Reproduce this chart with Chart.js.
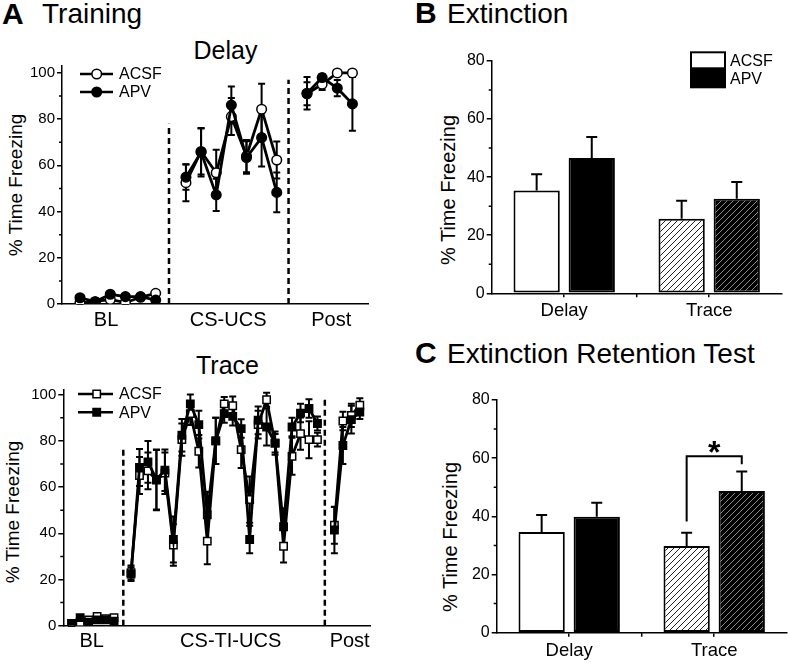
<!DOCTYPE html>
<html>
<head>
<meta charset="utf-8">
<script src="https://cdn.jsdelivr.net/npm/chart.js@4.4.0/dist/chart.umd.min.js"></script>
<style>
  body { margin: 0; background: #fff; width: 789px; height: 663px; position: relative; overflow: hidden;
         font-family: "Liberation Sans", Arial, Helvetica, sans-serif; }
  .box { position: absolute; }
  .txt { position: absolute; white-space: nowrap; line-height: 1; color: #000; }
  .ytitle { position: absolute; white-space: nowrap; line-height: 1; font-size: 19px;
            transform: translate(-50%, -50%) rotate(-90deg); }
</style>
</head>
<body>
<div class="txt" style="left:2px;top:-1px;font-size:30px;font-weight:bold">A</div>
<div class="txt" style="left:42px;top:0px;font-size:28px">Training</div>
<div class="txt" style="left:415px;top:-2px;font-size:30px;font-weight:bold">B</div>
<div class="txt" style="left:447px;top:-0.5px;font-size:28px">Extinction</div>
<div class="txt" style="left:415px;top:338px;font-size:30px;font-weight:bold">C</div>
<div class="txt" style="left:447px;top:339.5px;font-size:28px">Extinction Retention Test</div>

<div class="txt" style="left:225.5px;top:38px;font-size:25px;transform:translateX(-50%)">Delay</div>
<div class="txt" style="left:227.5px;top:353px;font-size:25px;transform:translateX(-50%)">Trace</div>

<div class="ytitle" style="left:15px;top:185px">% Time Freezing</div>
<div class="ytitle" style="left:12px;top:512px">% Time Freezing</div>
<div class="ytitle" style="left:448px;top:190px;font-size:20px">% Time Freezing</div>
<div class="ytitle" style="left:450px;top:537px;font-size:20px">% Time Freezing</div>

<div class="box" style="left:0;top:0;width:390px;height:335px"><canvas id="delayChart"></canvas></div>
<div class="box" style="left:0;top:335px;width:390px;height:328px"><canvas id="traceChart"></canvas></div>
<div class="box" style="left:400px;top:0;width:389px;height:330px"><canvas id="extChart"></canvas></div>
<div class="box" style="left:400px;top:330px;width:389px;height:333px"><canvas id="retChart"></canvas></div>

<script>
// ---- data (A: training, one point per trial, null = gap between phases)
const delayGroups = ['BL', 'CS-UCS', 'Post'];
const delayGroupPos = [1.72, 9.79, 16.6];
const delayACSF    = [0.6, 1, 2, 0.6, 2.9, 4.6, null, 52.5, 66, 56.8, 81.1, 64, 84.3, 62.3, null, 91, 95.1, 100, 100];
const delayACSFErr = [0.5, 0.5, 1, 0.5, 1, 1.5, null, 8, 10, 10, 8, 7, 11, 8, null, 5, 2.5, 1, 1];
const delayAPV     = [2.7, 1, 4.2, 3.2, 3.2, 1.7, null, 54.9, 65.7, 47.2, 86.1, 63.4, 72, 48.3, null, 91.2, 98, 93.4, 86.6];
const delayAPVErr  = [1, 0.5, 1, 1, 1, 1, null, 5.5, 10.5, 7, 8, 7, 12.5, 8.6, null, 7, 1.5, 3.5, 11.6];
const delayDividers = [{x: 5.88, top: 78}, {x: 13.78, top: 97}];

const traceGroups = ['BL', 'CS-TI-UCS', 'Post'];
const traceGroupPos = [2.36, 18.76, 32.8];
const traceACSF = [1, 1.5, 2.5, 4, 3, 3.5, null,
  23, 65, 67, 63, 66, 34.9, 80.5, 91.8, 75.5, 36.6, 80, 96, 95.2, 76.2, 54.6, 87, 97.8, 79, 34.4, 73.3, 83.1, 80.5, 80.5,
  null, 43.5, 88.6, 91, 95.4];
const traceACSFErr = [1, 1, 1, 1, 1, 1, null,
  3, 8, 8, 13, 9, 9, 7, 5, 7, 10, 10, 3, 4, 8, 10, 6, 3, 5, 7, 8, 7, 8, 3,
  null, 8, 4, 5, 3];
const traceAPV = [1, 3.5, 1.5, 2.5, 2.5, 2, null,
  22.3, 68.5, 70.9, 63.3, 67.3, 37.3, 82.4, 96, 87, 48, 80, 91.8, 90.6, 85.3, 37.3, 88.9, 86, 79, 42.8, 86, 92, 94, 87.5,
  null, 41.4, 78, 89.2, 92.5];
const traceAPVErr = [1, 1, 1, 1, 1, 1, null,
  3, 8, 9, 13, 9, 10, 7, 4, 6, 10, 10, 4, 4, 4, 6, 6, 8, 4, 8, 4, 4, 4, 3,
  null, 10, 8, 6, 3];
const traceDividers = [{x: 6.09, top: 76.7}, {x: 29.87, top: 98.3}];

// ---- data (B: extinction, C: extinction retention test)
const barCategories = ['Delay', 'Trace'];
const extACSF = [35.4, 25.7];
const extACSFErr = [5.6, 6.2];
const extAPV = [46.6, 32.6];
const extAPVErr = [7.2, 5.7];
const retACSF = [34.6, 29.8];
const retACSFErr = [5.9, 4.6];
const retAPV = [39.9, 48.7];
const retAPVErr = [4.8, 6.7];
const retSig = {index: 1, leftFrom: 38.2, top: 60.7, rightFrom: 57.9, labelAt: 64.6, label: '*'};

Chart.defaults.font.family = '"Liberation Sans", Arial, Helvetica, sans-serif';
Chart.defaults.color = '#000';
Chart.defaults.animation = false;
Chart.defaults.plugins.legend.display = false;
Chart.defaults.plugins.tooltip.enabled = false;

// error bars: 'both' drawn under the markers, 'up' drawn over the bars
function drawErrors(chart, mode) {
  const ctx = chart.ctx, ys = chart.scales.y;
  ctx.save();
  ctx.strokeStyle = '#000';
  ctx.lineWidth = 2;
  chart.data.datasets.forEach((ds, di) => {
    if (!ds.errors || ds.errorMode !== mode) return;
    chart.getDatasetMeta(di).data.forEach((el, i) => {
      const raw = ds.data[i];
      const v = (raw && typeof raw === 'object') ? raw.y : raw;
      const e = ds.errors[i];
      if (v == null || e == null) return;
      const top = ys.getPixelForValue(v + e);
      const bot = ys.getPixelForValue(mode === 'up' ? v : v - e);
      const w = ds.capWidth / 2;
      ctx.beginPath();
      ctx.moveTo(el.x, bot); ctx.lineTo(el.x, top);
      ctx.moveTo(el.x - w, top); ctx.lineTo(el.x + w, top);
      if (mode === 'both') { ctx.moveTo(el.x - w, bot); ctx.lineTo(el.x + w, bot); }
      ctx.stroke();
    });
  });
  ctx.restore();
}
const errorBars = {
  id: 'errorBars',
  beforeDatasetsDraw(chart) { drawErrors(chart, 'both'); },
  afterDatasetsDraw(chart) { drawErrors(chart, 'up'); }
};

// short minor ticks on the y axis (+ middle tick on bar charts)
const minorTicks = {
  id: 'minorTicks',
  afterDraw(chart, args, opts) {
    const ctx = chart.ctx, area = chart.chartArea, ys = chart.scales.y;
    ctx.save();
    ctx.strokeStyle = '#000';
    ctx.lineWidth = 1.5;
    ctx.beginPath();
    (opts.values || []).forEach(v => {
      const py = ys.getPixelForValue(v);
      ctx.moveTo(area.left - 3, py); ctx.lineTo(area.left, py);
    });
    if (opts.xMid) {
      const xs = chart.scales.x;
      const px = (xs.getPixelForTick(0) + xs.getPixelForTick(1)) / 2;
      ctx.moveTo(px, area.bottom); ctx.lineTo(px, area.bottom + 4);
    }
    ctx.stroke();
    ctx.restore();
  }
};

// legend for the training plots (line + marker + label)
const lineKey = {
  id: 'lineKey',
  afterDraw(chart, args, o) {
    if (!o.rows) return;
    const ctx = chart.ctx;
    ctx.save();
    ctx.font = '16px "Liberation Sans", Arial, sans-serif';
    ctx.textBaseline = 'middle';
    ctx.fillStyle = '#000';
    o.rows.forEach(r => {
      ctx.strokeStyle = '#000';
      ctx.lineWidth = 2.5;
      ctx.beginPath(); ctx.moveTo(o.x0, r.y); ctx.lineTo(o.x1, r.y); ctx.stroke();
      ctx.lineWidth = 1.5;
      ctx.fillStyle = r.filled ? '#000' : '#fff';
      ctx.beginPath();
      if (o.marker === 'rect') ctx.rect(o.xm - 3.7, r.y - 3.7, 7.4, 7.4);
      else ctx.arc(o.xm, r.y, 4.8, 0, Math.PI * 2);
      ctx.fill(); ctx.stroke();
      ctx.fillStyle = '#000';
      ctx.fillText(r.label, o.xt, r.y + 1);
    });
    ctx.restore();
  }
};

function lineChart(id, o) {
  const pts = vals => vals.map((v, i) => ({x: i, y: v}));
  const base = {
    type: 'line', borderColor: '#000', borderWidth: 2.8, pointStyle: o.marker, pointRadius: o.radius,
    pointBorderColor: '#000', pointBorderWidth: 1.5, spanGaps: false, tension: 0,
    errorMode: 'both', capWidth: 7
  };
  const datasets = [
    Object.assign({}, base, {label: 'ACSF', data: pts(o.acsf), errors: o.acsfErr, pointBackgroundColor: '#fff', order: 2}),
    Object.assign({}, base, {label: 'APV', data: pts(o.apv), errors: o.apvErr, pointBackgroundColor: '#000', order: 1})
  ];
  o.dividers.forEach(d => datasets.push({
    type: 'line', label: '', data: [{x: d.x, y: 0}, {x: d.x, y: d.top}],
    borderColor: '#000', borderWidth: 2.5, borderDash: [6, 4], pointRadius: 0, order: 3
  }));
  return new Chart(document.getElementById(id), {
    type: 'line',
    data: {datasets},
    options: {
      responsive: true, maintainAspectRatio: false, devicePixelRatio: 1,
      layout: {padding: {top: o.padTop, right: o.padRight, left: 0, bottom: 0}},
      scales: {
        x: {
          type: 'linear', min: o.xMin, max: o.xMax,
          afterBuildTicks: s => { s.ticks = o.groupPos.map(v => ({value: v})); },
          afterFit: s => { s.height = o.xHeight; },
          ticks: {autoSkip: false, maxRotation: 0, font: {size: 20}, color: '#000', padding: 4,
                  callback: (v, i) => o.groups[i]},
          grid: {display: false, drawTicks: false},
          border: {display: true, color: '#000', width: 1.5}
        },
        y: {
          min: 0, max: o.yMax,
          afterBuildTicks: s => { s.ticks = [0, 20, 40, 60, 80, 100].map(v => ({value: v})); },
          afterFit: s => { s.width = o.yWidth; },
          ticks: {font: {size: 15}, color: '#000', padding: 2},
          grid: {drawOnChartArea: false, drawTicks: true, tickLength: 5, color: '#000', lineWidth: 1.5},
          border: {display: true, color: '#000', width: 1.5}
        }
      },
      plugins: {
        minorTicks: {values: [10, 30, 50, 70, 90]},
        lineKey: o.key
      }
    },
    plugins: [errorBars, minorTicks, lineKey]
  });
}

lineChart('delayChart', {
  acsf: delayACSF, acsfErr: delayACSFErr, apv: delayAPV, apvErr: delayAPVErr,
  dividers: delayDividers, groups: delayGroups, groupPos: delayGroupPos,
  marker: 'circle', radius: 4.8, xMin: -1.19, xMax: 19.03, yMax: 103,
  padTop: 66, padRight: 22, xHeight: 31, yWidth: 62,
  key: {x0: 80, x1: 113, xm: 96.7, xt: 119, marker: 'circle',
        rows: [{label: 'ACSF', y: 74, filled: false}, {label: 'APV', y: 92, filled: true}]}
});

lineChart('traceChart', {
  acsf: traceACSF, acsfErr: traceACSFErr, apv: traceAPV, apvErr: traceAPVErr,
  dividers: traceDividers, groups: traceGroups, groupPos: traceGroupPos,
  marker: 'rect', radius: 5.2, xMin: -0.99, xMax: 35.2, yMax: 102,
  padTop: 55, padRight: 20, xHeight: 37.3, yWidth: 63.3,
  key: {x0: 78, x1: 113, xm: 96.7, xt: 119, marker: 'rect',
        rows: [{label: 'ACSF', y: 59, filled: false}, {label: 'APV', y: 77.3, filled: true}]}
});

// diagonal hatch fill for the Trace bars
function hatch(bg, fg) {
  const c = document.createElement('canvas');
  c.width = 6; c.height = 6;
  const g = c.getContext('2d');
  g.fillStyle = bg; g.fillRect(0, 0, 6, 6);
  g.strokeStyle = fg; g.lineWidth = 1;
  g.beginPath();
  g.moveTo(0, 6); g.lineTo(6, 0);
  g.moveTo(-3, 3); g.lineTo(3, -3);
  g.moveTo(3, 9); g.lineTo(9, 3);
  g.stroke();
  return g.createPattern(c, 'repeat');
}
const hatchLight = hatch('#fff', '#222');
const hatchDark = hatch('#000', '#8a8a8a');

// bar legend (white / black boxes)
const boxKey = {
  id: 'boxKey',
  afterDraw(chart, args, o) {
    if (!o.rows) return;
    const ctx = chart.ctx;
    ctx.save();
    ctx.font = '16px "Liberation Sans", Arial, sans-serif';
    ctx.textBaseline = 'middle';
    o.rows.forEach(r => {
      ctx.fillStyle = r.fill;
      ctx.fillRect(o.x, r.y, o.w, r.h);
      ctx.strokeStyle = '#000'; ctx.lineWidth = 2;
      ctx.strokeRect(o.x, r.y, o.w, r.h);
      ctx.fillStyle = '#000';
      ctx.fillText(r.label, o.x + o.w + 5, r.y + r.h / 2 + 1);
    });
    ctx.restore();
  }
};

// significance bracket with star
const sigBracket = {
  id: 'sigBracket',
  afterDatasetsDraw(chart, args, o) {
    if (!o.sig) return;
    const s = o.sig, ctx = chart.ctx, ys = chart.scales.y;
    const a = chart.getDatasetMeta(0).data[s.index].x;
    const b = chart.getDatasetMeta(1).data[s.index].x;
    const top = ys.getPixelForValue(s.top);
    ctx.save();
    ctx.strokeStyle = '#000'; ctx.lineWidth = 2;
    ctx.beginPath();
    ctx.moveTo(a, ys.getPixelForValue(s.leftFrom));
    ctx.lineTo(a, top); ctx.lineTo(b, top);
    ctx.lineTo(b, ys.getPixelForValue(s.rightFrom));
    ctx.stroke();
    ctx.fillStyle = '#000';
    ctx.font = 'bold 32px "Liberation Sans", Arial, sans-serif';
    ctx.textAlign = 'center';
    ctx.textBaseline = 'alphabetic';
    ctx.fillText(s.label, (a + b) / 2, ys.getPixelForValue(s.labelAt) + 18);
    ctx.restore();
  }
};

function barChart(id, o) {
  const base = {borderColor: '#000', borderWidth: 2, borderSkipped: false,
                categoryPercentage: 0.76, barPercentage: 0.84, errorMode: 'up', capWidth: 11};
  return new Chart(document.getElementById(id), {
    type: 'bar',
    data: {
      labels: barCategories,
      datasets: [
        Object.assign({}, base, {label: 'ACSF', data: o.acsf, errors: o.acsfErr, backgroundColor: ['#fff', hatchLight]}),
        Object.assign({}, base, {label: 'APV', data: o.apv, errors: o.apvErr, backgroundColor: ['#000', hatchDark]})
      ]
    },
    options: {
      responsive: true, maintainAspectRatio: false, devicePixelRatio: 1,
      layout: {padding: {top: o.padTop, right: o.padRight, left: 0, bottom: 0}},
      scales: {
        x: {
          afterFit: s => { s.height = o.xHeight; },
          ticks: {font: {size: 18.5}, color: '#000', padding: 3},
          grid: {offset: false, drawOnChartArea: false, drawTicks: true, tickLength: 4, color: '#000', lineWidth: 1.5},
          border: {display: true, color: '#000', width: 1.5}
        },
        y: {
          min: 0, max: 80,
          afterBuildTicks: s => { s.ticks = [0, 20, 40, 60, 80].map(v => ({value: v})); },
          afterFit: s => { s.width = o.yWidth; },
          ticks: {font: {size: 16}, color: '#000', padding: 2},
          grid: {drawOnChartArea: false, drawTicks: true, tickLength: 5, color: '#000', lineWidth: 1.5},
          border: {display: true, color: '#000', width: 1.5}
        }
      },
      plugins: {
        minorTicks: {values: [10, 30, 50, 70], xMid: true},
        boxKey: o.key || {},
        sigBracket: {sig: o.sig}
      }
    },
    plugins: [errorBars, minorTicks, boxKey, sigBracket]
  });
}

barChart('extChart', {
  acsf: extACSF, acsfErr: extACSFErr, apv: extAPV, apvErr: extAPVErr,
  padTop: 61, padRight: 7.3, xHeight: 36.7, yWidth: 91.7,
  key: {x: 291, w: 34, rows: [
    {label: 'ACSF', y: 52.3, h: 16, fill: '#fff'},
    {label: 'APV', y: 69.3, h: 18, fill: '#000'}]}
});

barChart('retChart', {
  acsf: retACSF, acsfErr: retACSFErr, apv: retAPV, apvErr: retAPVErr,
  padTop: 70, padRight: 2.3, xHeight: 30.3, yWidth: 96.7, sig: retSig
});
</script>
</body>
</html>
